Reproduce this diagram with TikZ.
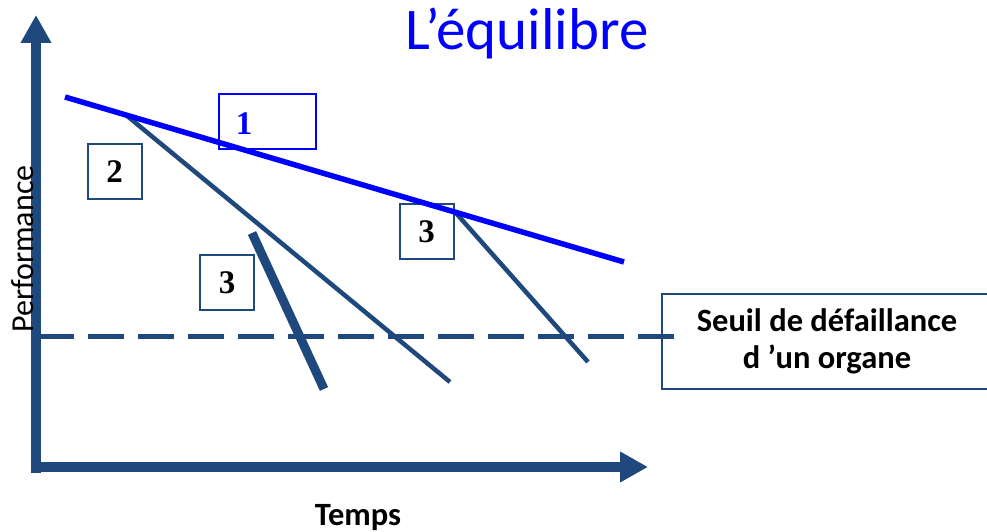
\documentclass[tikz,border=0pt]{standalone}
\usepackage{fontspec}
\newfontfamily\calfont{Carlito}
\newfontfamily\timesfont{Liberation Serif}
\usetikzlibrary{arrows.meta}
\definecolor{navy}{RGB}{31,73,125}
\definecolor{pureblue}{RGB}{0,0,255}
\begin{document}
\begin{tikzpicture}[x=1pt,y=-1pt,
  axis/.style={draw=navy, line width=10pt, -{Triangle[length=28pt 0 0, width=29pt 0 0]}},
  numbox/.style={draw=navy, line width=2pt, minimum width=54pt, minimum height=55pt, inner sep=0pt,
    font=\timesfont\bfseries\fontsize{33}{33}\selectfont},
  numtext/.style={inner sep=0pt, font=\timesfont\bfseries\fontsize{33}{33}\selectfont},
  trend/.style={draw=navy, line width=4.5pt},
  sharp/.style={draw=navy, line width=9pt},
  ideal/.style={draw=pureblue, line width=5.5pt},
  threshold/.style={draw=navy, line width=5pt, dash pattern=on 36pt off 14pt},
  caption/.style={inner sep=0pt, font=\calfont\fontsize{32}{37}\selectfont},
  boldcaption/.style={inner sep=0pt, font=\calfont\bfseries\fontsize{32.5}{37}\selectfont}]
\useasboundingbox (0,0) rectangle (987,532);

% title
\node[caption, anchor=base west, text=pureblue, font=\calfont\fontsize{59}{62}\selectfont]
  (title) at (405,50) {L’équilibre};

% axes
\coordinate (ytop) at (36,15);
\coordinate (xend) at (648,467);
\coordinate (ybot) at (36,473);
\coordinate (xbeg) at (31,467);
\draw[axis] (ybot) -- (ytop);
\draw[axis] (xbeg) -- (xend);
\node[caption, rotate=90, anchor=base west] (perf) at (33,333) {Performance};
\node[boldcaption, anchor=base] (temps) at (358,525) {Temps};

% numbered boxes
\node[numbox, draw=pureblue, line width=2.5pt, minimum width=97pt] (box1) at (267.5,121.5) {};
\node[numtext, text=pureblue] (n1) at (244,124) {1};
\node[numbox] (box2) at (114.5,171.5) {2};
\node[numbox] (box3a) at (227,282.5) {3};
\node[numbox] (box3b) at (426.5,231.5) {3};

% failure threshold
\node[boldcaption, draw=navy, line width=2pt, minimum width=330pt, minimum height=95pt, align=center]
  (seuil) at (827,341.5) {Seuil de défaillance\\d ’un organe};
\coordinate (th0) at (38,336);
\coordinate (th1) at (675,336);
\draw[threshold] (th0) -- (th1);

% performance trends
\coordinate (a0) at (65,97);
\coordinate (a1) at (624,262);
\coordinate (b0) at (126,115);
\coordinate (b1) at (450,382);
\coordinate (c0) at (252,233);
\coordinate (c1) at (324,389);
\coordinate (d0) at (455,212);
\coordinate (d1) at (588,362);
\draw[trend] (b0) -- (b1);
\draw[trend] (d0) -- (d1);
\draw[sharp] (c0) -- (c1);
\draw[ideal] (a0) -- (a1);
\end{tikzpicture}
\end{document}
